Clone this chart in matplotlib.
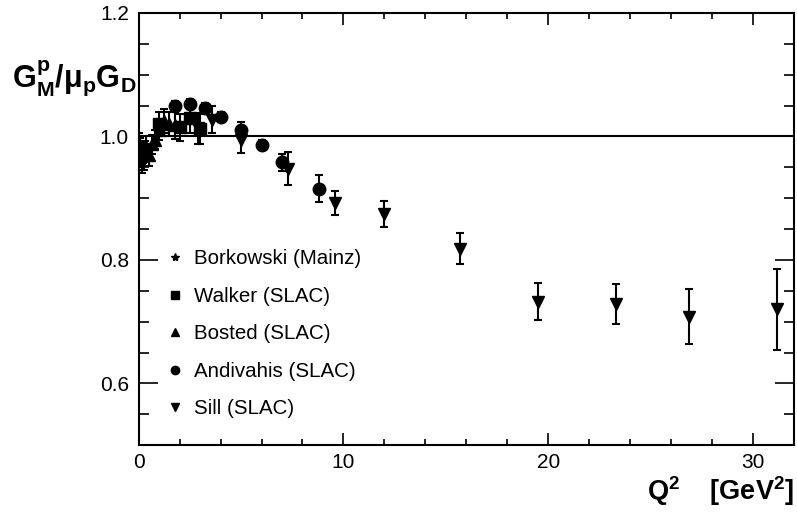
import numpy as np
import matplotlib.pyplot as plt
from matplotlib.lines import Line2D
from matplotlib.ticker import MultipleLocator

plt.rcParams['font.family'] = ['Liberation Sans', 'DejaVu Sans']
plt.rcParams['mathtext.fontset'] = 'custom'
plt.rcParams['mathtext.rm'] = 'Liberation Sans'
plt.rcParams['mathtext.it'] = 'Liberation Sans:italic'
plt.rcParams['mathtext.bf'] = 'Liberation Sans:bold'

# Borkowski (Mainz)
bork_q2 = [0.02, 0.05, 0.08, 0.11, 0.14, 0.18, 0.22, 0.27, 0.32, 0.38]
bork_g = [0.990, 0.982, 0.975, 0.968, 0.972, 0.960, 0.975, 0.965, 0.978, 0.985]
bork_err = [0.015, 0.015, 0.016, 0.018, 0.015, 0.020, 0.018, 0.020, 0.015, 0.015]

# Walker (SLAC)
walk_q2 = [1.0, 2.0, 2.5, 3.0]
walk_g = [1.020, 1.015, 1.030, 1.012]
walk_err = [0.020, 0.022, 0.025, 0.025]

# Bosted (SLAC)
bost_q2 = [0.49, 0.63, 0.78, 1.0, 1.25, 1.49, 1.75]
bost_g = [0.970, 0.987, 0.995, 1.010, 1.025, 1.020, 1.018]
bost_err = [0.018, 0.015, 0.015, 0.015, 0.020, 0.020, 0.022]

# Andivahis (SLAC)
andi_q2 = [1.75, 2.5, 3.25, 4.0, 5.0, 6.0, 7.0, 8.83]
andi_g = [1.049, 1.053, 1.046, 1.031, 1.011, 0.986, 0.958, 0.915]
andi_err = [0.008, 0.008, 0.008, 0.008, 0.012, 0.008, 0.014, 0.022]

# Sill (SLAC)
sill_q2 = [2.9, 3.6, 5.0, 7.3, 9.6, 12.0, 15.7, 19.5, 23.3, 26.9, 31.2]
sill_g = [1.013, 1.027, 0.995, 0.948, 0.892, 0.874, 0.818, 0.732, 0.729, 0.708, 0.720]
sill_err = [0.025, 0.022, 0.022, 0.027, 0.020, 0.021, 0.025, 0.030, 0.032, 0.045, 0.066]

fig = plt.figure(figsize=(7.97, 5.17), dpi=100)
ax = fig.add_axes([0.174, 0.139, 0.822, 0.836])

ax.axhline(1.0, color='black', lw=1.5, zorder=1)

ebkw = dict(fmt='none', ecolor='black', elinewidth=1.5, capsize=3, capthick=1.5, zorder=2)
sets = [
    (bork_q2, bork_g, bork_err, '*', 8),
    (walk_q2, walk_g, walk_err, 's', 8),
    (bost_q2, bost_g, bost_err, '^', 8),
    (andi_q2, andi_g, andi_err, 'o', 9),
    (sill_q2, sill_g, sill_err, 'v', 8),
]
for q, g, e, m, ms in sets:
    ax.errorbar(q, g, yerr=e, **ebkw)
    ax.plot(q, g, ls='none', marker=m, ms=ms, color='black', zorder=3)

labels = ['Borkowski (Mainz)', 'Walker (SLAC)', 'Bosted (SLAC)',
          'Andivahis (SLAC)', 'Sill (SLAC)']
handles = [Line2D([], [], ls='none', marker=m, ms=6, color='black')
           for m in ['*', 's', '^', 'o', 'v']]
ax.legend(handles, labels, loc='lower left', bbox_to_anchor=(0.011, 0.019),
          frameon=False, fontsize=14.8, labelspacing=0.9, handletextpad=0.45,
          handlelength=1.0)

ax.set_xlim(0, 32)
ax.set_ylim(0.5, 1.2)
ax.xaxis.set_major_locator(MultipleLocator(10))
ax.xaxis.set_minor_locator(MultipleLocator(2))
ax.yaxis.set_major_locator(MultipleLocator(0.2))
ax.yaxis.set_minor_locator(MultipleLocator(0.05))
ax.tick_params(which='both', direction='in', top=True, right=True,
               width=1.2, labelsize=15, pad=7)
ax.tick_params(axis='x', which='major', length=8.5, pad=6)
ax.tick_params(axis='x', which='minor', length=4.5)
ax.tick_params(axis='y', which='major', length=14)
ax.tick_params(axis='y', which='minor', length=7)
ax.yaxis.set_major_formatter(plt.FuncFormatter(lambda v, p: f'{v:.1f}'))
for s in ax.spines.values():
    s.set_linewidth(1.5)

fig.text(0.015, 0.832, r'$\mathbf{G_M^p/\mu_p G_D}$', fontsize=22, va='baseline')
fig.text(0.996, 0.032, r'$\mathbf{Q^2}$    $\mathbf{[GeV^2]}$', fontsize=19.5,
         ha='right', va='baseline')

fig.savefig('out.png', dpi=100)
